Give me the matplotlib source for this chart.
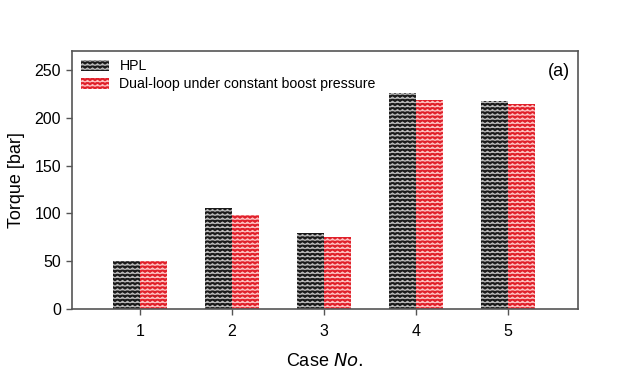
import numpy as np
import matplotlib
matplotlib.use('Agg')
import matplotlib.pyplot as plt
from matplotlib import hatch as mhatch
from matplotlib.path import Path

plt.rcParams['font.family'] = ['Liberation Sans', 'DejaVu Sans']

cases = [1, 2, 3, 4, 5]
hpl = [50, 106, 80, 226, 218]
dual = [50, 98, 75.5, 218.5, 214.5]
labels = ['HPL', 'Dual-loop under constant boost pressure']


# zigzag hatch, takes the place of the '-' hatch
class ZigZagHatch(mhatch.HatchPatternBase):
    def __init__(self, hatch, density):
        self.num_rows = hatch.count('-') * density
        self.num_zig = int(self.num_rows * 0.85)
        self.num_vertices = self.num_rows * (2 * self.num_zig + 1)

    def set_vertices_and_codes(self, vertices, codes):
        step = 1.0 / self.num_rows
        xs = np.linspace(0, 1, 2 * self.num_zig + 1)
        amp = step * 0.2
        k = 0
        for i in range(self.num_rows):
            y0 = (i + 0.5) * step
            ys = y0 + amp * np.where(np.arange(len(xs)) % 2 == 0, -1, 1)
            n = len(xs)
            vertices[k:k + n, 0] = xs
            vertices[k:k + n, 1] = ys
            codes[k] = Path.MOVETO
            codes[k + 1:k + n] = Path.LINETO
            k += n


mhatch._hatch_types = [ZigZagHatch if t is mhatch.HorizontalHatch else t
                       for t in mhatch._hatch_types]
plt.rcParams['hatch.linewidth'] = 0.8

fig = plt.figure(figsize=(6.24, 3.73), dpi=100)
ax = fig.add_axes([0.1154, 0.1716, 0.8106, 0.6917])

x = np.array(cases)
w = 0.29
ax.bar(x - w / 2, hpl, w, color='#1a1a1a', edgecolor='#bdbdbd', linewidth=0,
       hatch='----', label=labels[0])
ax.bar(x + w / 2, dual, w, color='#e0202a', edgecolor='#ffc4c4', linewidth=0,
       hatch='----', label=labels[1])

ax.set_xlim(0.26, 5.76)
ax.set_ylim(0, 270)
ax.set_xticks(cases)
ax.set_yticks([0, 50, 100, 150, 200, 250])
for s in ax.spines.values():
    s.set_color('#555555')
    s.set_linewidth(1.2)
ax.tick_params(direction='out', length=4, width=1, color='#555555',
               labelsize=11.5, top=False, right=False, pad=4)
ax.tick_params(axis='x', pad=7)

ax.set_ylabel('Torque [bar]', fontsize=13, labelpad=7)
ax.set_xlabel('Case $\\it{No.}$', fontsize=13, labelpad=10)
ax.text(0.985, 0.955, '(a)', transform=ax.transAxes, ha='right', va='top',
        fontsize=13)

ax.legend(loc='upper left', frameon=False, fontsize=10.2, handlelength=2.0,
          handleheight=0.8, handletextpad=0.75, labelspacing=0.25,
          borderaxespad=0.2, bbox_to_anchor=(0.0, 1.0))

fig.savefig('out.png', dpi=100)
